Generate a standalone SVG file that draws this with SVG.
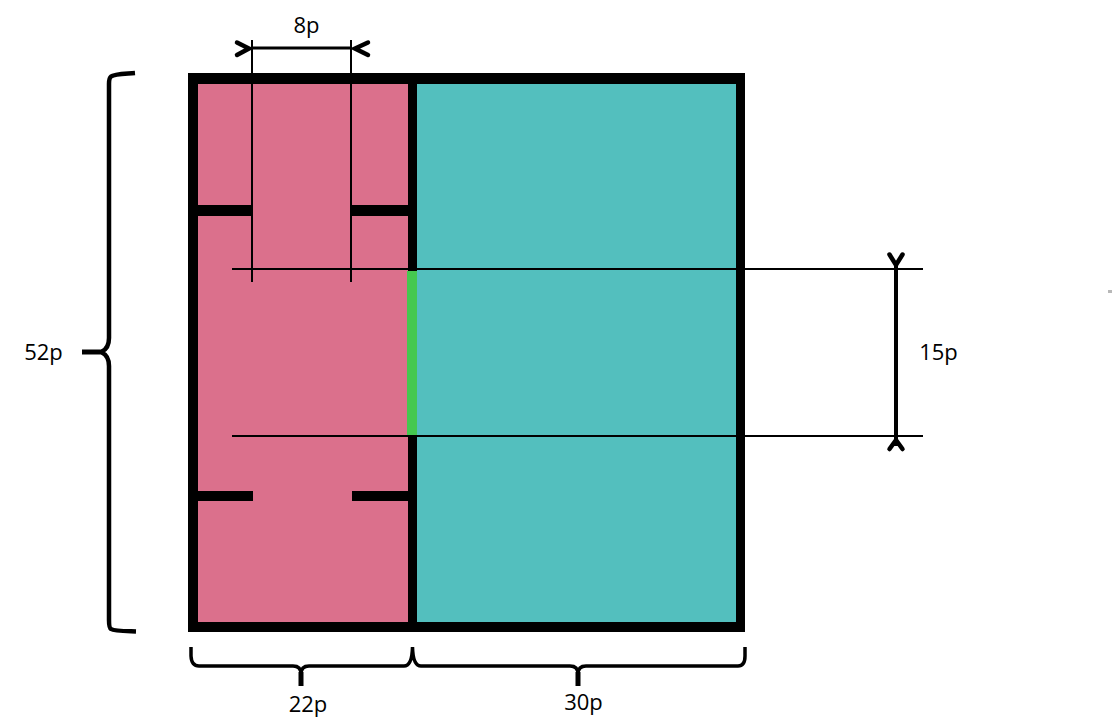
<svg xmlns="http://www.w3.org/2000/svg" width="1114" height="728" viewBox="0 0 1114 728">
<style>
.t{font-family:"Open Sans","DejaVu Sans",sans-serif;font-size:22px;fill:#000;text-anchor:middle}
.thin{stroke:#000;stroke-width:2;fill:none}
.dim{stroke:#000;stroke-width:3;fill:none}
.brace{stroke:#000;stroke-width:3.500;fill:none}
.stem{stroke:#000;stroke-width:5;fill:none}
.head{stroke:#000;stroke-width:4.500;fill:none;stroke-linecap:round;stroke-linejoin:miter}
</style>
<rect width="1114" height="728" fill="#fff"/>
<g id="plan">
<rect x="188" y="73" width="557" height="559" fill="#000"/>
<rect x="198" y="84" width="210" height="538" fill="#db708c"/>
<rect x="417" y="84" width="319" height="538" fill="#53bfbe"/>
<rect x="407" y="271" width="10" height="164" fill="#45c850"/>
<rect x="198" y="205" width="54" height="11" fill="#000"/>
<rect x="351" y="205" width="57" height="11" fill="#000"/>
<rect x="198" y="491" width="55" height="10" fill="#000"/>
<rect x="352" y="491" width="56" height="10" fill="#000"/>
</g>
<g id="connectors">
<path class="thin" d="M252 40V282M351 40V282M232 269H923M232 436H923"/>
<path class="dim" d="M252 48H351"/>
<path class="head" d="M237 42.500L249 48.500L237 55"/>
<path class="head" d="M368 42.500L355 48.500L368 55"/>
<path class="dim" d="M896 262V446" style="stroke-width:4"/>
<path class="head" d="M889.500 254.500L896 265L902.500 254.500"/>
<path class="head" d="M889.500 449L896 440L902.500 449"/>
<path class="brace" d="M135 73C122 74 114 74 111 76.500Q109 78 109 84V338Q109 348 102 351.500M102 352.500Q109 356 109 366V620Q109 628 111 629C114 631 122 631 136 631.500" style="stroke-width:4.500"/>
<path class="stem" d="M82 352H104"/>
<path class="brace" d="M191 647V656Q191.500 666 199 666H293Q301 666 301 674M301 674Q301 666 309 666H404Q412 666 412.500 647M412.500 647Q413 666 421 666H570Q578 666 578 674M578 674Q578 666 586 666H738Q745 666 745 656V647"/>
<path class="stem" d="M301 672V686M578 672V686"/>
</g>
<g id="labels">
<text class="t" x="306.500" y="33">8p</text>
<text class="t" x="43.500" y="360">52p</text>
<text class="t" x="938.500" y="360">15p</text>
<text class="t" x="308" y="712">22p</text>
<text class="t" x="583.500" y="710">30p</text>
</g>
<g id="speck"><rect x="1108" y="290" width="4" height="3" fill="#b8b8b8"/></g>
</svg>
